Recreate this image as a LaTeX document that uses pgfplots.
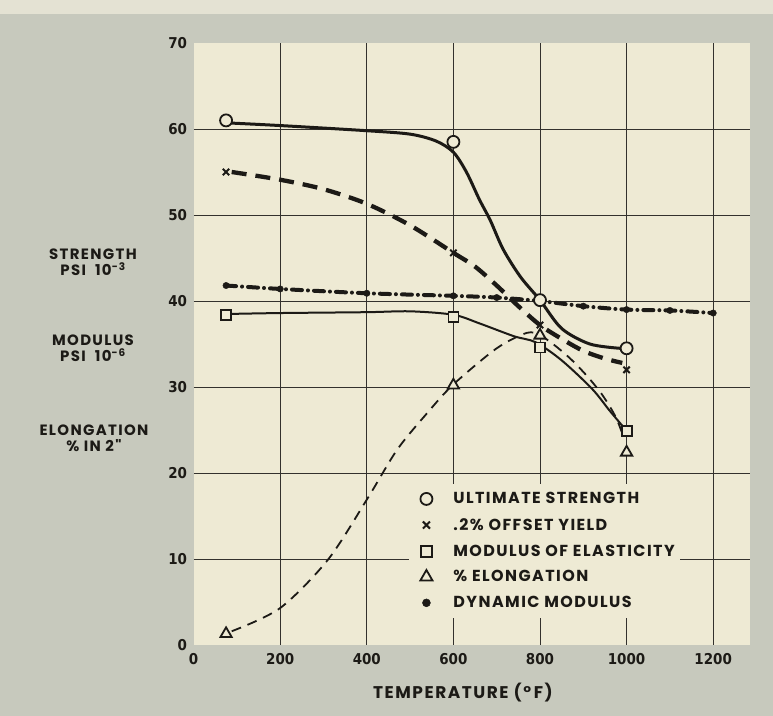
\documentclass[border=0pt]{standalone}
\usepackage{pgfplots}
\pgfplotsset{compat=1.18}
\usepackage{fontspec}
\setmainfont{Poppins}
\newfontfamily\labfont{Poppins}[LetterSpace=9]
\newfontfamily\condfont{DejaVu Sans Condensed}
\definecolor{cream}{RGB}{238,234,212}
\definecolor{bggray}{RGB}{199,201,189}
\definecolor{topband}{RGB}{228,226,211}
\definecolor{ink}{RGB}{28,26,22}
\begin{document}
\begin{tikzpicture}
\fill[bggray] (0,0) rectangle (773bp,716bp);
\fill[topband] (0,702bp) rectangle (773bp,716bp);
\begin{axis}[
  at={(193.6bp,71bp)}, anchor=south west,
  scale only axis, width=556.4bp, height=602bp,
  xmin=0, xmax=1285, ymin=0, ymax=70,
  axis line style={draw=none},
  axis background/.style={fill=cream},
  xtick={0,200,...,1200}, ytick={0,10,...,70},
  minor xtick={200,400,...,1200}, minor ytick={10,20,...,60},
  xminorgrids=true, yminorgrids=true,
  major tick length=0pt, minor tick length=0pt,
  minor grid style={line width=0.9bp, color=ink!90},
  tick label style={font=\condfont\bfseries\fontsize{15}{15}\selectfont, text=ink},
  /pgf/number format/assume math mode=true,
  /pgf/number format/1000 sep={},
  xticklabel style={yshift=-5bp}, yticklabel style={xshift=-3bp},
  legend style={at={(axis cs:498,18.8)}, anchor=north west, draw=none, fill=cream,
    font=\labfont\bfseries\fontsize{16}{16}\selectfont, text=ink,
    row sep=9bp, inner xsep=3bp, inner ysep=7bp, column sep=0bp},
  legend cell align=left,
  legend image code/.code={\draw[#1] plot coordinates {(0bp,0bp)}; \path[draw=none,fill=none] (-14bp,0bp) -- (25bp,0bp);},
]
% curves
\addplot[ink, line width=3bp, smooth, tension=0.5, forget plot] coordinates {
 (82,60.7)(200,60.4)(400,59.8)(500,59.4)(560,58.6)(600,57.3)(630,55)(660,51.8)(685,49.4)(715,46)(755,42.8)(800,40.1)(850,36.8)(915,35)(985,34.5)};
\addplot[ink, line width=4.3bp, dash pattern=on 15bp off 9bp, smooth, tension=0.5, forget plot] coordinates {
 (88,55.0)(200,54.1)(300,53)(400,51.3)(500,48.8)(600,45.6)(650,44)(700,41.8)(750,39.4)(800,37.2)(850,35.6)(900,34.2)(950,33.3)(990,32.8)};
\addplot[ink, line width=2bp, smooth, tension=0.5, forget plot] coordinates {
 (88,38.5)(200,38.6)(400,38.7)(500,38.8)(600,38.4)(660,37.4)(740,35.9)(790,35.2)(850,33.1)(920,29.8)(960,27.3)(995,25.2)};
\addplot[ink, line width=1.8bp, dash pattern=on 10bp off 7bp, smooth, tension=0.5, forget plot] coordinates {
 (88,1.6)(200,4.3)(310,9.9)(400,16.9)(470,22.7)(540,27)(600,30.3)(700,34.5)(770,36.3)(800,36.0)(830,35)(870,33.3)(910,31.2)(945,29.0)(975,26.5)(992,24.3)};
\addplot[ink, line width=4bp, line cap=round, dash pattern=on 10bp off 6bp on 0.01bp off 6bp, smooth, tension=0.5, forget plot] coordinates {
 (75,41.8)(200,41.4)(400,40.9)(600,40.6)(700,40.4)(800,40.0)(900,39.4)(1000,39.0)(1100,38.9)(1200,38.6)};
% marks
\addplot[only marks, mark=*, mark size=6bp, mark options={draw=ink, fill=cream, line width=1.8bp}] coordinates {(75,61.0)(600,58.5)(800,40.1)(1000,34.5)};
\addlegendentry{ULTIMATE STRENGTH}
\addplot[only marks, mark=x, mark size=4.5bp, mark options={draw=ink, line width=2bp}, legend image post style={mark size=5bp}] coordinates {(75,55.0)(600,45.6)(800,37.2)(1000,32.0)};
\addlegendentry{.2\% OFFSET YIELD}
\addplot[only marks, mark=square*, mark size=5bp, mark options={draw=ink, fill=cream, line width=1.8bp}, legend image post style={mark size=5.5bp}] coordinates {(75,38.4)(600,38.1)(800,34.6)(1000,24.9)};
\addlegendentry{MODULUS OF ELASTICITY}
\addplot[only marks, mark=triangle*, mark size=6.5bp, mark options={draw=ink, fill=cream, line width=1.8bp}, legend image post style={mark size=7bp}] coordinates {(75,1.3)(600,30.2)(800,36.0)(1000,22.4)};
\addlegendentry{\% ELONGATION}
\addplot[only marks, mark=*, mark size=3.2bp, mark options={draw=ink, fill=ink}, legend image post style={mark size=4bp}] coordinates {(75,41.8)(200,41.4)(400,40.9)(600,40.6)(700,40.4)(900,39.4)(1000,39.0)(1100,38.9)(1200,38.6)};
\addlegendentry{DYNAMIC MODULUS}
\end{axis}
\begin{scope}[every node/.style={text=ink, align=center, font=\labfont\bfseries\fontsize{15}{16.5}\selectfont}]
\node at (93bp,454bp) {STRENGTH\\PSI \ 10\textsuperscript{-3}};
\node at (93bp,368bp) {MODULUS\\PSI \ 10\textsuperscript{-6}};
\node at (94bp,278bp) {ELONGATION\\\% IN 2"};
\node[font=\labfont\bfseries\fontsize{17}{17}\selectfont] at (463bp,23bp) {TEMPERATURE (°\,F)};
\end{scope}
\pgfresetboundingbox
\path (0,0) rectangle (773bp,716bp);
\end{tikzpicture}
\end{document}
